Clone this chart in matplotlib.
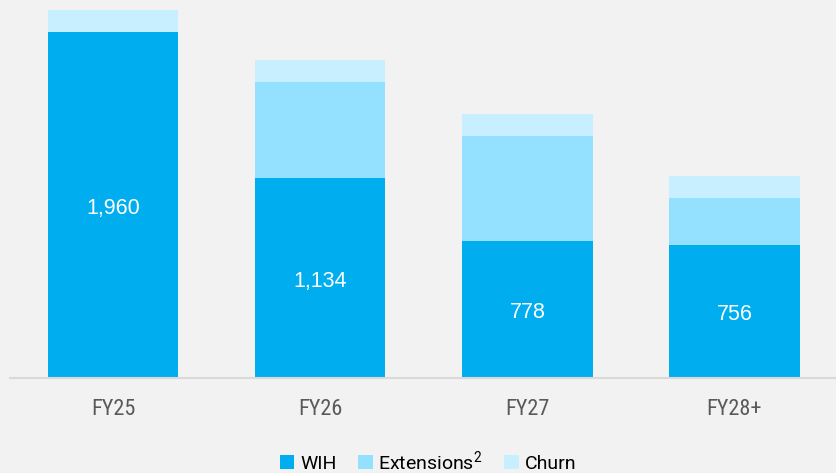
import matplotlib.pyplot as plt
import numpy as np

plt.rcParams['font.family'] = ['Roboto', 'DejaVu Sans']
plt.rcParams['mathtext.default'] = 'regular'

# data
periods = ['FY25', 'FY26', 'FY27', 'FY28+']
wih = [1960, 1134, 778, 756]
extensions = [0, 544, 593, 261]
churn = [125, 125, 125, 125]
series_names = ['WIH', 'Extensions$^{2}$', 'Churn']

colors = ['#00AEEF', '#94E1FF', '#C8EFFF']
bg = '#F2F2F2'

fig = plt.figure(figsize=(8.36, 4.73), dpi=100, facecolor=bg)
ax = fig.add_axes([9.5 / 836, 95 / 473, 1 - 9.5 / 836, 378 / 473])
ax.set_facecolor(bg)

x = np.arange(len(periods))
w = 0.63
b1 = ax.bar(x, wih, w, color=colors[0], label=series_names[0])
b2 = ax.bar(x, extensions, w, bottom=wih, color=colors[1], label=series_names[1])
bottom2 = np.array(wih) + np.array(extensions)
b3 = ax.bar(x, churn, w, bottom=bottom2, color=colors[2], label=series_names[2])

# value labels in the middle of the WIH segment
for xi, v in zip(x, wih):
    ax.annotate(f'{v:,}', (xi, v / 2), xytext=(0, -2.5), textcoords='offset points',
                ha='center', va='center', color='white',
                fontsize=15.5, family=['Liberation Sans', 'DejaVu Sans'])

ax.set_xlim(-0.5, 3.49)
ax.set_ylim(0, 2141)
for s in ['top', 'right', 'left']:
    ax.spines[s].set_visible(False)
ax.spines['bottom'].set_color('#D9D9D9')
ax.spines['bottom'].set_linewidth(1.5)
ax.set_yticks([])
ax.set_xticks(x)
ax.set_xticklabels(periods, fontsize=16, color='#595959',
                   family=['Liberation Sans Narrow', 'Roboto Condensed', 'Liberation Sans'])
ax.tick_params(axis='x', length=0, pad=15)

leg = fig.legend(handles=[b1, b2, b3], loc='center', bbox_to_anchor=(428 / 836, 1 - 461 / 473),
                 ncol=3, frameon=False, fontsize=14, handlelength=0.75, handleheight=0.75,
                 handletextpad=0.3, columnspacing=1.1)

plt.savefig('out.png', dpi=100, facecolor=bg)
